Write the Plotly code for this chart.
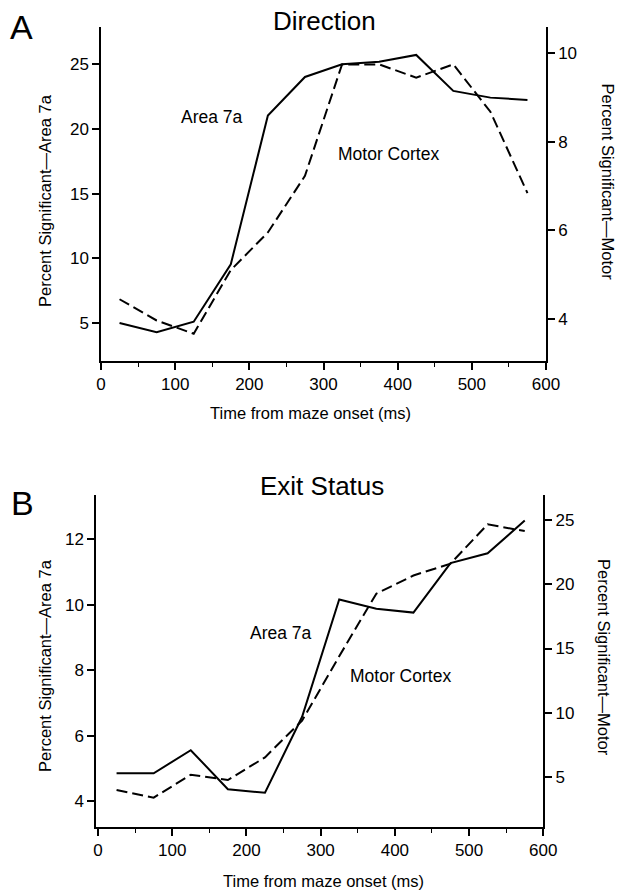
import plotly.graph_objects as go

W, H = 617, 893

# ---------------- data ----------------
time_ms = [25, 75, 125, 175, 225, 275, 325, 375, 425, 475, 525, 575]

dir_area7a = [5.0, 4.28, 5.1, 9.54, 21.03, 24.02, 25.0, 25.2, 25.72, 22.94, 22.42, 22.24]
dir_motor = [4.44, 3.96, 3.66, 5.10, 5.95, 7.23, 9.75, 9.75, 9.45, 9.75, 8.68, 6.84]

exit_area7a = [4.855, 4.855, 5.56, 4.37, 4.26, 6.58, 10.16, 9.88, 9.76, 11.27, 11.57, 12.57]
exit_motor = [4.01, 3.42, 5.2, 4.79, 6.55, 9.4, 14.4, 19.26, 20.67, 21.59, 24.64, 24.12]

x_ticks = [0, 100, 200, 300, 400, 500, 600]
dir_left_ticks = [5, 10, 15, 20, 25]
dir_right_ticks = [4, 6, 8, 10]
exit_left_ticks = [4, 6, 8, 10, 12]
exit_right_ticks = [5, 10, 15, 20, 25]

FONT = "Liberation Sans, Arial, sans-serif"


def px_x(p):
    return p / W


def px_y(p):
    return 1 - p / H


line_solid = dict(color="black", width=2)
line_dash = dict(color="black", width=2, dash="11px,5px")

fig = go.Figure()
fig.add_trace(go.Scatter(x=time_ms, y=dir_area7a, mode="lines", line=line_solid,
                         xaxis="x", yaxis="y", showlegend=False))
fig.add_trace(go.Scatter(x=time_ms, y=dir_motor, mode="lines", line=line_dash,
                         xaxis="x", yaxis="y2", showlegend=False))
fig.add_trace(go.Scatter(x=time_ms, y=exit_area7a, mode="lines", line=line_solid,
                         xaxis="x2", yaxis="y3", showlegend=False))
fig.add_trace(go.Scatter(x=time_ms, y=exit_motor, mode="lines", line=line_dash,
                         xaxis="x2", yaxis="y4", showlegend=False))

axis_common = dict(showline=True, linecolor="black", linewidth=1.5, ticks="outside",
                   ticklen=7, tickwidth=1.5, tickcolor="black", showgrid=False,
                   zeroline=False, tickfont=dict(family=FONT, size=17, color="black"),
                   automargin=False)

top_dom = [px_y(361), px_y(27)]
bot_dom = [px_y(827.3), px_y(495)]

xminor = dict(ticks="outside", ticklen=4, tickwidth=1.2, tickcolor="black", dtick=50, showgrid=False)

fig.update_layout(
    width=W, height=H,
    margin=dict(l=0, r=0, t=0, b=0),
    paper_bgcolor="white", plot_bgcolor="white",
    font=dict(family=FONT, color="black"),
    xaxis=dict(axis_common, domain=[px_x(101), px_x(546)], range=[0, 600],
               tickvals=x_ticks, anchor="y", minor=xminor),
    yaxis=dict(axis_common, domain=top_dom, range=[2.062, 27.88],
               tickvals=dir_left_ticks, anchor="x", side="left"),
    yaxis2=dict(axis_common, domain=top_dom, range=[3.044, 10.595],
                tickvals=dir_right_ticks, anchor="x", overlaying="y", side="right"),
    xaxis2=dict(axis_common, domain=[px_x(96), px_x(543.3)], range=[-2.7, 600],
                tickvals=x_ticks, anchor="y3", minor=xminor),
    yaxis3=dict(axis_common, domain=bot_dom, range=[3.206, 13.35],
                tickvals=exit_left_ticks, anchor="x2", side="left"),
    yaxis4=dict(axis_common, domain=bot_dom, range=[1.118, 26.92],
                tickvals=exit_right_ticks, anchor="x2", overlaying="y3", side="right"),
)


def ann(text, x, y, size, angle=0, xanchor="center", yanchor="middle"):
    fig.add_annotation(text=text, x=px_x(x), y=px_y(y), xref="paper", yref="paper",
                       showarrow=False, textangle=angle, xanchor=xanchor, yanchor=yanchor,
                       font=dict(family=FONT, size=size, color="black"))


# panel letters and titles
ann("A", 21.7, 27, 34)
ann("B", 22, 503, 34)
ann("Direction", 324.7, 20.8, 26)
ann("Exit Status", 321.7, 486.3, 26)

# curve labels
ann("Area 7a", 212, 117, 17.5)
ann("Motor Cortex", 388.7, 154, 17.5)
ann("Area 7a", 281, 632.5, 17.5)
ann("Motor Cortex", 400, 676, 17.5)

# axis titles
ann("Time from maze onset (ms)", 310, 413, 16.5)
ann("Time from maze onset (ms)", 323, 881, 16.5)
ann("Percent Significant\u2014Area 7a", 45, 200, 16.5, angle=-90)
ann("Percent Significant\u2014Motor", 607, 181.5, 16.5, angle=90)
ann("Percent Significant\u2014Area 7a", 45, 665, 16.5, angle=-90)
ann("Percent Significant\u2014Motor", 604, 657, 16.5, angle=90)

fig.write_html(
    "out.html",
    config={"displayModeBar": False},
    post_script="document.body.style.margin='0';document.body.style.padding='0';"
                "document.documentElement.style.overflow='hidden';",
)
